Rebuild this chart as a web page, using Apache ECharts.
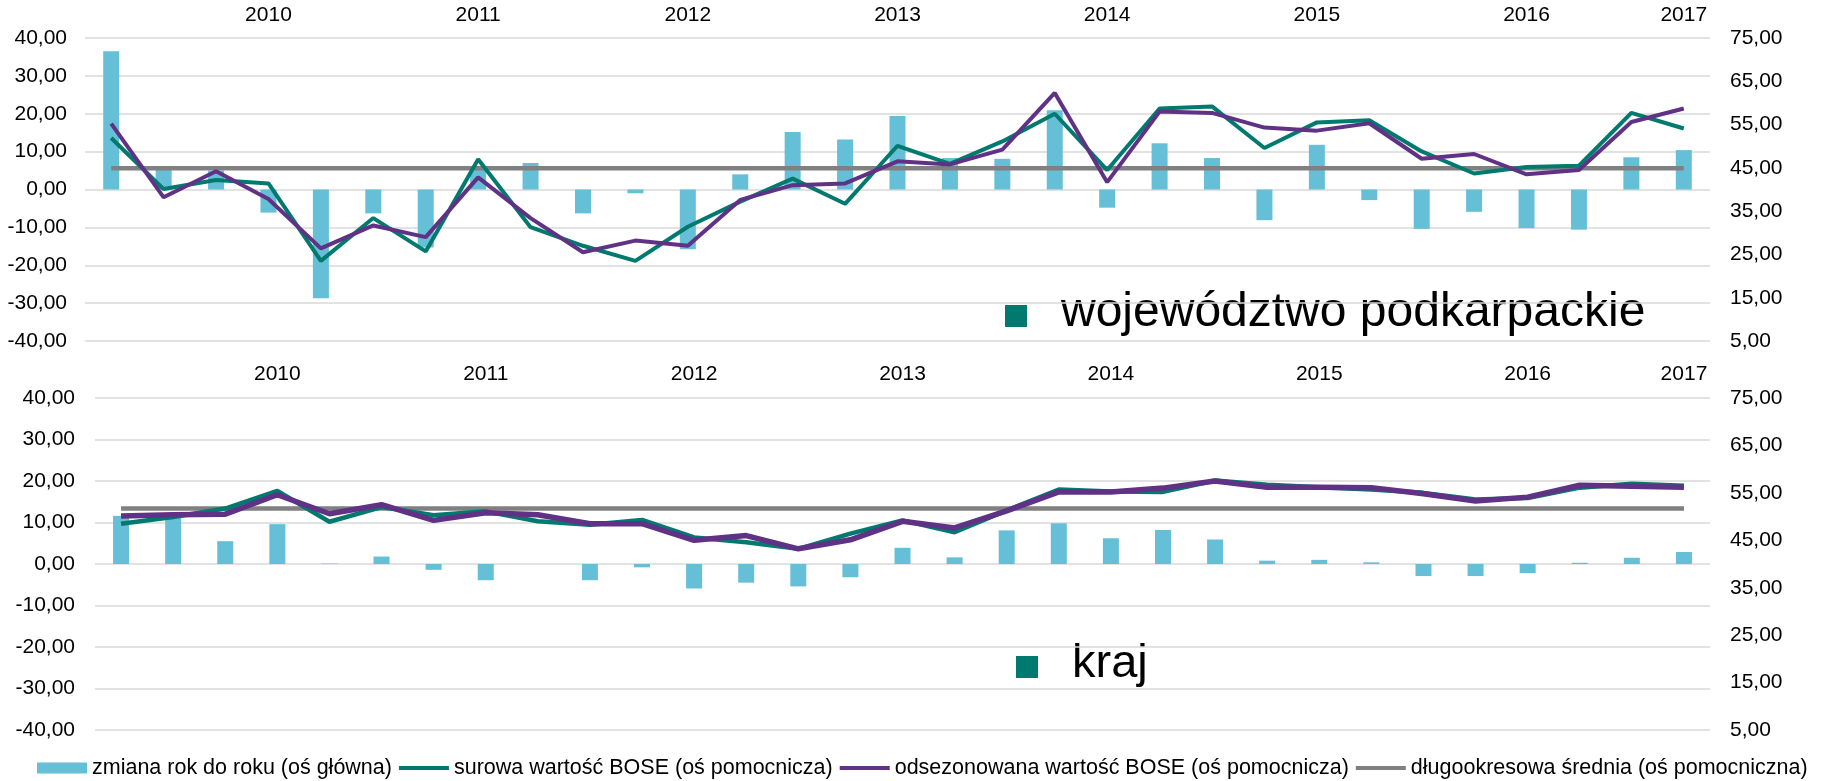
<!DOCTYPE html>
<html>
<head>
<meta charset="utf-8">
<script src="https://cdn.jsdelivr.net/npm/echarts/dist/echarts.min.js"></script>
<style>
html, body { margin: 0; padding: 0; background: #fff; }
#main { width: 1837px; height: 781px; }
</style>
</head>
<body>
<div id="main"></div>
<script>
// etykiety osi czasu (kwartały, rok przy wybranych)
var yearLabels = ['', '', '', '2010', '', '', '', '2011', '', '', '', '2012', '', '', '', '2013',
    '', '', '', '2014', '', '', '', '2015', '', '', '', '2016', '', '', '2017'];

// województwo podkarpackie
var podkYoy = [36.5, 5.3, 5.0, -6.1, -28.7, -6.3, -15.3, 5.5, 7.0, -6.3, -1.0, -15.8, 4.0, 15.2, 13.2, 19.4,
    8.3, 8.1, 20.9, -4.8, 12.2, 8.3, -8.1, 11.8, -2.8, -10.4, -5.9, -10.2, -10.6, 8.5, 10.4];
var podkRaw = [51.9, 40.1, 42.2, 41.4, 23.5, 33.4, 25.7, 47.0, 31.3, 27.0, 23.5, 31.4, 37.2, 42.5, 36.7, 50.1,
    45.9, 51.1, 57.5, 44.5, 58.7, 59.2, 49.6, 55.5, 56.0, 48.8, 43.7, 45.2, 45.5, 57.7, 54.1];
var podkSa = [55.2, 38.2, 44.2, 37.8, 26.4, 31.7, 29.0, 42.8, 33.4, 25.5, 28.2, 27.0, 37.6, 41.0, 41.4, 46.5,
    45.8, 49.2, 62.3, 41.7, 58.0, 57.7, 54.3, 53.6, 55.3, 47.1, 48.2, 43.5, 44.5, 55.6, 58.7];
var podkAvg = 44.9;

// kraj
var krajYoy = [11.6, 11.5, 5.5, 9.6, 0.1, 1.8, -1.4, -3.9, 0.0, -3.9, -0.8, -5.9, -4.5, -5.4, -3.2, 3.9,
    1.6, 8.1, 9.8, 6.2, 8.2, 5.9, 0.8, 1.0, 0.4, -2.9, -2.9, -2.2, 0.3, 1.5, 2.9];
var krajRaw = [48.5, 49.9, 51.7, 55.4, 48.9, 52.0, 50.3, 51.1, 49.0, 48.3, 49.3, 45.6, 44.6, 43.2, 46.4, 49.2,
    46.7, 51.3, 55.7, 55.3, 55.2, 57.6, 56.7, 56.2, 55.7, 55.0, 53.6, 53.9, 56.1, 56.9, 56.5];
var krajSa = [50.1, 50.4, 50.5, 54.6, 50.6, 52.5, 49.2, 50.8, 50.4, 48.5, 48.5, 45.0, 46.0, 43.2, 45.1, 49.0,
    47.6, 51.2, 55.2, 55.2, 56.0, 57.5, 56.2, 56.2, 56.1, 54.8, 53.3, 54.1, 56.6, 56.4, 56.2];
var krajAvg = 51.7;

var names = ['zmiana rok do roku (oś główna)', 'surowa wartość BOSE (oś pomocnicza)',
    'odsezonowana wartość BOSE (oś pomocnicza)', 'długookresowa średnia (oś pomocniczna)'];

var FONT = '"Liberation Sans", Arial, sans-serif';
var C_BAR = '#65BFD7', C_RAW = '#007A6E', C_SA = '#603286', C_AVG = '#808080';

var chart = echarts.init(document.getElementById('main'));

function fmt(v) { return v.toFixed(2).replace('.', ','); }
function fill(v) { return yearLabels.map(function () { return v; }); }

function xAx(gi, margin) {
    return {
        type: 'category', gridIndex: gi, position: 'top', data: yearLabels,
        axisLine: { show: false }, axisTick: { show: false },
        axisLabel: { interval: 0, margin: margin, fontSize: 21, fontFamily: FONT, color: '#000' }
    };
}
function yLeft(gi, margin) {
    return {
        type: 'value', gridIndex: gi, min: -40, max: 40, interval: 10,
        axisLine: { show: false }, axisTick: { show: false },
        splitLine: { lineStyle: { color: '#D9D9D9', width: 1.5 } },
        axisLabel: { margin: margin, fontSize: 21, fontFamily: FONT, color: '#000', formatter: fmt }
    };
}
function yRight(gi) {
    return {
        type: 'value', gridIndex: gi, position: 'right', min: 5, max: 75, interval: 5,
        axisLine: { show: false }, axisTick: { show: false }, splitLine: { show: false },
        axisLabel: {
            margin: 20, fontSize: 21, fontFamily: FONT, color: '#000',
            formatter: function (v) { return ((v - 5) % 10 === 0) ? fmt(v) : ''; }
        }
    };
}
function seriesFor(gi, yoy, raw, sa, avg, wRaw, wSa) {
    return [
        { name: names[0], type: 'bar', xAxisIndex: gi, yAxisIndex: gi * 2, data: yoy,
          barWidth: 16, itemStyle: { color: C_BAR }, z: 1 },
        { name: names[3], type: 'line', xAxisIndex: gi, yAxisIndex: gi * 2 + 1, data: fill(avg),
          symbol: 'none', lineStyle: { color: C_AVG, width: 4.5 }, itemStyle: { color: C_AVG }, z: 2 },
        { name: names[1], type: 'line', xAxisIndex: gi, yAxisIndex: gi * 2 + 1, data: raw,
          symbol: 'none', lineStyle: { color: C_RAW, width: wRaw }, itemStyle: { color: C_RAW }, z: 3 },
        { name: names[2], type: 'line', xAxisIndex: gi, yAxisIndex: gi * 2 + 1, data: sa,
          symbol: 'none', lineStyle: { color: C_SA, width: wSa }, itemStyle: { color: C_SA }, z: 4 }
    ];
}

var option = {
    animation: false,
    backgroundColor: '#fff',
    grid: [
        { left: 85, right: 127, top: 38, height: 303 },
        { left: 95, right: 127, top: 398, height: 332 }
    ],
    xAxis: [xAx(0, 12), xAx(1, 13)],
    yAxis: [yLeft(0, 18), yRight(0), yLeft(1, 20), yRight(1)],
    legend: {
        left: 37, top: 757, width: 1795, padding: 0, itemWidth: 50, itemHeight: 11, itemGap: 5,
        textStyle: { fontSize: 21.5, fontFamily: FONT, color: '#000' },
        data: [
            { name: names[0], icon: 'rect' },
            { name: names[1], itemStyle: { opacity: 0 }, lineStyle: { width: 4 } },
            { name: names[2], itemStyle: { opacity: 0 }, lineStyle: { width: 4 } },
            { name: names[3], itemStyle: { opacity: 0 }, lineStyle: { width: 4 } }
        ]
    },
    graphic: [
        { type: 'rect', shape: { x: 1005, y: 305, width: 22, height: 22 }, style: { fill: C_RAW } },
        { type: 'text', x: 1061, y: 313,
          style: { text: 'województwo podkarpackie', font: '48px ' + FONT, fill: '#000', verticalAlign: 'middle' } },
        { type: 'rect', shape: { x: 1016, y: 656, width: 22, height: 22 }, style: { fill: C_RAW } },
        { type: 'text', x: 1072, y: 664,
          style: { text: 'kraj', font: '47px ' + FONT, fill: '#000', verticalAlign: 'middle' } }
    ],
    series: seriesFor(0, podkYoy, podkRaw, podkSa, podkAvg, 4, 4)
        .concat(seriesFor(1, krajYoy, krajRaw, krajSa, krajAvg, 4.5, 5.5))
};

chart.setOption(option);
</script>
</body>
</html>
